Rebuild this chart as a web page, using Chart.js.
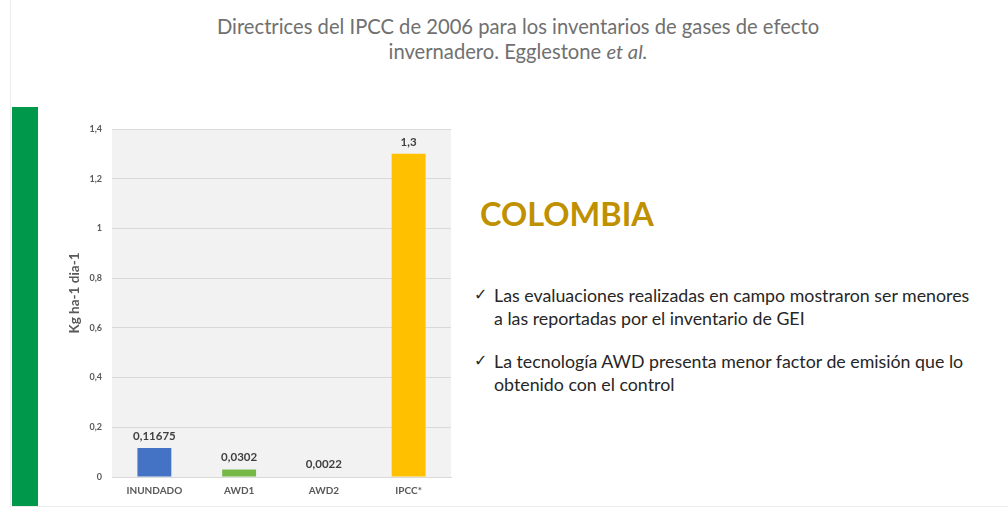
<!DOCTYPE html>
<html lang="es">
<head>
<meta charset="UTF-8">
<title>Factores de emisión - Colombia</title>
<script src="https://cdn.jsdelivr.net/npm/chart.js"></script>
<style>
    html, body {
        margin: 0;
        padding: 0;
        width: 1008px;
        height: 508px;
        background: #fff;
        overflow: hidden;
        font-family: 'Lato', 'Open Sans', sans-serif;
    }
    .slide-edge {
        position: absolute;
        left: 10px;
        top: 0;
        width: 998px;
        height: 506px;
        border-left: 1px solid #ececec;
        border-bottom: 1px solid #ececec;
    }
    .side-bar {
        position: absolute;
        left: 12px;
        top: 107px;
        width: 26px;
        height: 399px;
        background: #00984b;
    }
    .heading {
        position: absolute;
        left: 118px;
        top: 14px;
        width: 800px;
        text-align: center;
        color: #707070;
        font-size: 20.2px;
        line-height: 25px;
    }
    .country {
        position: absolute;
        left: 480px;
        top: 194px;
        color: #bf9000;
        font-weight: bold;
        font-size: 32.5px;
    }
    ul.notes {
        position: absolute;
        left: 474px;
        top: 284px;
        margin: 0;
        padding: 0;
        list-style: none;
        color: #262626;
        font-size: 17.8px;
        line-height: 23px;
        width: 500px;
    }
    ul.notes li {
        position: relative;
        padding-left: 20px;
        margin-bottom: 20px;
    }
    ul.notes li::before {
        content: "\2713";
        position: absolute;
        left: 0;
        top: -1px;
        font-family: 'DejaVu Sans', sans-serif;
        font-size: 16px;
    }
    #chartBox {
        position: absolute;
        left: 60px;
        top: 110px;
        width: 400px;
        height: 390px;
    }
</style>
</head>
<body>
    <div class="slide-edge"></div>
    <div class="side-bar"></div>
    <div class="heading">Directrices del IPCC de 2006 para los inventarios de gases de efecto<br>invernadero. Egglestone <i>et al.</i></div>
    <div class="country">COLOMBIA</div>
    <ul class="notes">
        <li>Las evaluaciones realizadas en campo mostraron ser menores a las reportadas por el inventario de GEI</li>
        <li>La tecnología AWD presenta menor factor de emisión que lo obtenido con el control</li>
    </ul>
    <div id="chartBox"><canvas id="emisiones" width="400" height="390"></canvas></div>

<script>
    const categories = ['INUNDADO', 'AWD1', 'AWD2', 'IPCC*'];
    const emissionValues = [0.11675, 0.0302, 0.0022, 1.3];
    const barColors = ['#4472c4', '#76b947', '#8eaadb', '#ffc000'];
    const axisTitle = 'Kg ha-1 dia-1';

    const toComma = v => String(v).replace('.', ',');

    // gray plot background behind the bars
    const plotBackground = {
        id: 'plotBackground',
        beforeDraw(chart) {
            const { ctx, chartArea: a } = chart;
            ctx.save();
            ctx.fillStyle = '#f2f2f2';
            ctx.fillRect(a.left, a.top, a.right - a.left, a.bottom - a.top);
            ctx.restore();
        }
    };

    // value above each bar and the rotated y axis title
    const barLabels = {
        id: 'barLabels',
        afterDatasetsDraw(chart) {
            const { ctx, chartArea: a } = chart;
            const meta = chart.getDatasetMeta(0);
            ctx.save();
            ctx.fillStyle = '#404040';
            ctx.font = 'bold 11.5px Lato, sans-serif';
            ctx.textAlign = 'center';
            ctx.textBaseline = 'bottom';
            meta.data.forEach((bar, i) => {
                ctx.fillText(toComma(emissionValues[i]), bar.x, bar.y - 6);
            });
            ctx.translate(a.left - 37, (a.top + a.bottom) / 2 - 10);
            ctx.rotate(-Math.PI / 2);
            ctx.fillStyle = '#595959';
            ctx.font = 'bold 13.5px Lato, sans-serif';
            ctx.textBaseline = 'middle';
            ctx.fillText(axisTitle, 0, 0);
            ctx.restore();
        }
    };

    new Chart(document.getElementById('emisiones'), {
        type: 'bar',
        data: {
            labels: categories,
            datasets: [{
                data: emissionValues,
                backgroundColor: barColors,
                borderWidth: 0,
                categoryPercentage: 1,
                barPercentage: 0.4
            }]
        },
        options: {
            responsive: false,
            animation: false,
            layout: { padding: { top: 19, right: 9, left: 0, bottom: 0 } },
            plugins: {
                legend: { display: false },
                tooltip: { enabled: false }
            },
            scales: {
                x: {
                    grid: { display: false, drawTicks: false },
                    border: { color: '#d9d9d9' },
                    ticks: {
                        color: '#595959',
                        font: { family: 'Lato', size: 10, weight: 'bold' },
                        padding: 8
                    },
                    afterFit(scale) { scale.height = 23; }
                },
                y: {
                    min: 0,
                    max: 1.4,
                    grid: { color: '#d9d9d9', drawTicks: false },
                    border: { display: false },
                    ticks: {
                        stepSize: 0.2,
                        color: '#595959',
                        font: { family: 'Lato', size: 9, weight: 'bold' },
                        padding: 10,
                        callback: v => toComma(Math.round(v * 10) / 10)
                    },
                    afterFit(scale) { scale.width = 52; }
                }
            }
        },
        plugins: [plotBackground, barLabels]
    });
</script>
</body>
</html>
